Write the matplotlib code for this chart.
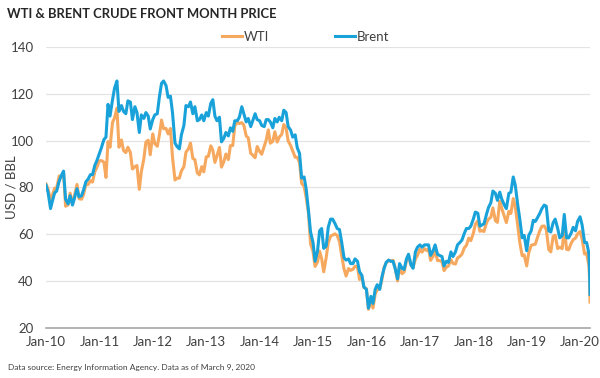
import matplotlib
matplotlib.use("Agg")
import matplotlib.pyplot as plt
import matplotlib.dates as mdates
import numpy as np
import pandas as pd

plt.rcParams["font.family"] = ["Lato", "DejaVu Sans"]

# semi-monthly readings (1st and 15th), plus the last days of the series
dates = list(pd.date_range("2010-01-01", "2020-02-15", freq="SMS"))
dates += [pd.Timestamp("2020-03-01"), pd.Timestamp("2020-03-06"), pd.Timestamp("2020-03-09")]

wti = [
    # 2010
    81.5, 79.4, 74.5, 77.0, 79.7, 79.8, 84.9, 84.5, 86.2, 72.0, 72.6, 77.6,
    72.9, 76.6, 81.3, 75.2, 75.0, 77.0, 81.6, 81.2, 82.9, 82.3, 86.8, 88.6,
    # 2011
    91.4, 91.5, 90.8, 84.3, 99.6, 97.2, 107.9, 109.7, 113.9, 97.2, 100.3, 95.8,
    94.9, 97.2, 94.9, 87.9, 88.9, 89.4, 79.2, 86.8, 92.2, 99.4, 100.2, 94.0,
    # 2012
    102.9, 98.7, 97.6, 102.3, 108.8, 105.1, 105.2, 102.9, 105.2, 93.0, 83.2, 84.0,
    84.0, 87.1, 88.9, 95.1, 96.5, 99.0, 92.4, 91.9, 86.2, 85.4, 88.9, 86.7,
    # 2013
    93.1, 93.3, 97.8, 95.9, 90.7, 93.5, 97.1, 88.7, 91.0, 94.3, 91.9, 97.9,
    97.9, 106.3, 107.9, 107.3, 107.7, 106.6, 102.0, 101.2, 94.6, 93.8, 92.7, 97.5,
    # 2014
    95.4, 94.2, 97.5, 100.3, 104.6, 98.9, 99.7, 103.8, 99.4, 101.5, 102.7, 106.9,
    105.3, 99.9, 97.9, 95.6, 92.9, 92.9, 90.7, 81.8, 80.5, 75.8, 69.0, 55.9,
    # 2015
    52.7, 46.3, 48.2, 52.8, 49.6, 44.0, 50.1, 56.4, 59.2, 59.7, 60.2, 59.5,
    56.9, 51.4, 45.2, 42.2, 45.4, 44.6, 45.1, 46.4, 46.1, 40.7, 41.9, 37.3,
    # 2016
    36.8, 28.0, 31.6, 28.5, 34.4, 36.3, 36.8, 40.4, 45.9, 47.7, 49.0, 48.5,
    48.9, 45.9, 40.1, 45.7, 43.2, 43.9, 48.8, 50.4, 46.7, 45.8, 49.4, 51.0,
    # 2017
    53.7, 52.4, 53.9, 53.1, 53.8, 48.9, 50.6, 53.2, 48.8, 48.8, 48.3, 44.5,
    46.0, 46.5, 49.2, 47.6, 47.3, 49.9, 50.6, 51.5, 54.3, 55.3, 58.4, 57.3,
    # 2018
    60.4, 64.3, 65.8, 61.3, 61.6, 61.2, 64.9, 66.5, 67.3, 71.3, 65.8, 65.1,
    74.1, 71.0, 67.7, 65.0, 69.8, 68.9, 75.3, 71.8, 63.7, 56.5, 50.9, 51.2,
    # 2019
    46.5, 52.1, 55.3, 55.6, 55.8, 58.5, 61.6, 63.4, 63.6, 62.0, 53.5, 52.5,
    59.1, 59.6, 53.9, 54.5, 53.9, 62.9, 53.6, 53.4, 56.2, 57.7, 58.4, 60.2,
    # 2020
    61.2, 58.0, 51.6, 52.0, 46.8, 41.3, 31.1,
]

brent = [
    # 2010
    81.0, 78.0, 71.0, 74.5, 77.7, 78.5, 82.7, 85.0, 87.0, 75.0, 73.0, 76.5,
    72.5, 75.5, 79.5, 76.0, 76.5, 79.0, 82.5, 83.5, 85.5, 85.5, 89.5, 91.5,
    # 2011
    94.5, 97.0, 100.5, 101.5, 115.5, 110.5, 117.5, 122.5, 125.5, 112.5, 115.0, 112.5,
    111.5, 117.0, 116.5, 109.0, 114.5, 112.0, 103.5, 111.0, 109.5, 112.0, 110.5, 105.0,
    # 2012
    109.0, 111.0, 111.5, 118.5, 124.5, 125.5, 123.5, 118.5, 119.0, 112.0, 99.0, 97.5,
    96.5, 102.5, 106.5, 115.0, 114.5, 116.5, 111.5, 114.5, 108.5, 109.0, 111.0, 108.5,
    # 2013
    112.0, 110.5, 116.0, 117.5, 110.5, 108.5, 110.0, 99.5, 101.0, 103.5, 102.0, 105.5,
    104.0, 108.5, 108.5, 110.0, 114.5, 111.5, 108.0, 109.5, 106.0, 108.5, 111.5, 109.0,
    # 2014
    108.5, 106.5, 106.0, 109.0, 109.0, 108.0, 105.5, 109.5, 108.0, 110.0, 108.5, 113.0,
    112.0, 106.0, 104.5, 101.5, 102.5, 97.0, 94.5, 84.0, 84.5, 79.5, 70.0, 61.0,
    # 2015
    56.5, 48.5, 53.0, 61.5, 62.5, 54.0, 55.0, 63.0, 66.5, 66.5, 64.5, 62.5,
    62.0, 57.0, 50.0, 49.0, 49.5, 47.5, 47.5, 49.5, 48.5, 44.0, 42.5, 37.5,
    # 2016
    36.5, 28.5, 33.5, 30.5, 36.5, 38.5, 36.5, 41.5, 45.5, 48.0, 49.0, 48.5,
    48.5, 45.5, 41.0, 47.5, 45.5, 45.0, 49.5, 51.5, 47.0, 45.5, 52.5, 54.5,
    # 2017
    55.5, 54.5, 55.5, 55.5, 55.5, 51.0, 53.0, 55.5, 51.5, 51.0, 50.5, 46.5,
    48.5, 48.0, 52.5, 50.5, 52.5, 55.5, 56.5, 57.5, 60.5, 62.5, 62.5, 63.5,
    # 2018
    66.5, 69.5, 69.0, 63.5, 64.0, 64.5, 68.5, 71.5, 73.5, 78.5, 77.5, 74.5,
    78.0, 75.0, 72.5, 71.0, 77.5, 78.0, 84.5, 81.0, 72.5, 66.5, 58.5, 59.5,
    # 2019
    53.0, 59.5, 61.5, 66.0, 65.5, 67.0, 69.0, 71.0, 72.5, 72.0, 61.5, 61.0,
    65.0, 66.5, 62.5, 58.5, 59.5, 68.5, 58.5, 58.5, 60.5, 63.0, 61.5, 65.5,
    # 2020
    67.5, 64.0, 56.5, 56.5, 52.0, 45.3, 34.4,
]

year_ticks = pd.date_range("2010-01-01", "2020-01-01", freq="YS")
y_ticks = [20, 40, 60, 80, 100, 120, 140]

wti_color = "#F6A95E"
brent_color = "#19A2DA"
text_color = "#404040"

fig = plt.figure(figsize=(6, 3.78), dpi=100)
ax = fig.add_axes([46 / 600, 1 - 328 / 378, 544 / 600, 281 / 378])

ax.plot(dates, wti, color=wti_color, lw=2.2, label="WTI")
ax.plot(dates, brent, color=brent_color, lw=2.2, label="Brent")

ax.set_xlim(pd.Timestamp("2010-01-01"), pd.Timestamp("2020-03-09"))
ax.set_ylim(20, 140)
ax.set_yticks(y_ticks)
ax.set_xticks(year_ticks)
ax.xaxis.set_major_formatter(mdates.DateFormatter("%b-%y"))

ax.grid(axis="y", color="#E3E3E3", lw=0.9)
ax.set_axisbelow(True)
for s in ["top", "right", "left"]:
    ax.spines[s].set_visible(False)
ax.spines["bottom"].set_color("#A6A6A6")
ax.spines["bottom"].set_linewidth(1.2)
ax.tick_params(axis="both", length=0, labelsize=9.5, labelcolor=text_color)
ax.tick_params(axis="x", pad=6)
ax.tick_params(axis="y", pad=9)

ax.set_ylabel("USD / BBL", fontsize=9.5, color=text_color)
ax.yaxis.set_label_coords(-0.053, 0.5)

ax.legend(loc="center left", bbox_to_anchor=(222 / 600, 1 - 37 / 378),
          bbox_transform=fig.transFigure, ncol=2, frameon=False, borderpad=0,
          borderaxespad=0, fontsize=9.5, handlelength=1.5, handletextpad=0.15,
          columnspacing=5.0, labelcolor=text_color)

fig.text(7 / 600, 1 - 14 / 378, "WTI & BRENT CRUDE FRONT MONTH PRICE", fontsize=9.4,
         fontweight="bold", color="#262626", va="center", ha="left")
fig.text(8 / 600, 1 - 367 / 378, "Data source: Energy Information Agency. Data as of March 9, 2020",
         fontsize=6, color=text_color, va="center", ha="left")

fig.savefig("out.png", dpi=100)
